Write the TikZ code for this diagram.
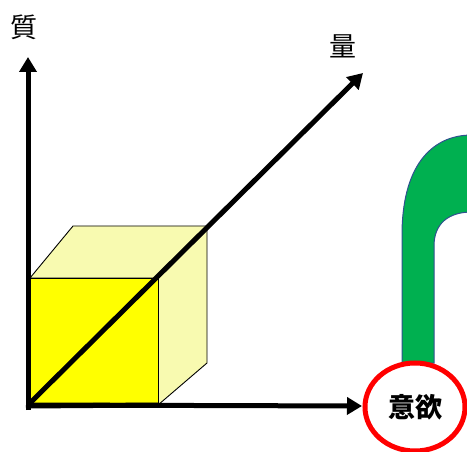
\documentclass[tikz,border=0pt]{standalone}
\usepackage{fontspec}
\newfontfamily\cjk{Noto Sans CJK JP}
\usetikzlibrary{arrows.meta,shapes.geometric}
\definecolor{paleyellow}{RGB}{248,250,176}
\definecolor{pureyellow}{RGB}{255,255,0}
\definecolor{offgreen}{RGB}{0,176,80}
\definecolor{edgeblue}{RGB}{47,82,143}
\tikzset{
  axis/.style={line width=5pt,-{Triangle[length=15pt,width=17pt]}},
  frontface/.style={fill=pureyellow,draw=black,line width=0.9pt},
  sideface/.style={fill=paleyellow,draw=black,line width=0.9pt},
  lbl/.style={font=\cjk\fontsize{27}{30}\selectfont,inner sep=0pt},
  will/.style={ellipse,draw=red,line width=5pt,fill=white,minimum width=100pt,minimum height=88pt,inner sep=0pt,font=\cjk\bfseries\fontsize{27}{30}\selectfont}
}
\begin{document}
\begin{tikzpicture}[x=1pt,y=-1pt]
\useasboundingbox (0,0) rectangle (467,452);
\clip (0,0) rectangle (467,452);
% cube corners
\coordinate (o) at (28,405);
\coordinate (fbr) at (158,405);
\coordinate (ftr) at (158,278);
\coordinate (ftl) at (30,278);
\coordinate (btl) at (73,226);
\coordinate (btr) at (207,226);
\coordinate (bbr) at (207,363);
\draw[sideface] (ftl) -- (btl) -- (btr) -- (ftr) -- cycle;
\draw[sideface] (ftr) -- (btr) -- (bbr) -- (fbr) -- cycle;
\draw[frontface] (30,405) rectangle (ftr);
% green arch
\draw[fill=offgreen,draw=edgeblue,line width=1pt]
  (402,363) -- (402,235) .. controls (402,168) and (430,135) .. (472,135)
  -- (472,212) .. controls (448,212) and (434,224) .. (434,246) -- (434,363) -- cycle;
% axis tips
\coordinate (qtip) at (28,57);
\coordinate (ltip) at (363,73);
\coordinate (rtip) at (362,406);
\draw[axis] (28,410) -- (qtip);
\draw[axis] (26,405) -- (rtip);
\draw[axis] (o) -- (ltip);
\draw[line width=5pt] (28,406) -- (fbr);
% labels
\node[lbl] (qual) at (24,27) {質};
\node[lbl] (quan) at (343,46) {量};
\node[will] (yoku) at (415,407) {意欲};
\end{tikzpicture}
\end{document}
